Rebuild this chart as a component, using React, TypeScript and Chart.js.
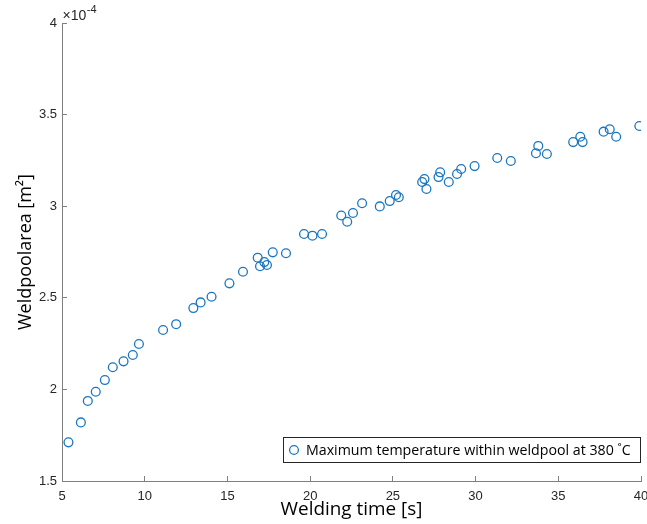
import React, { useEffect, useRef } from 'react';
import { Chart, registerables } from 'chart.js';

Chart.register(...registerables);

// Welding time [s]
const weldingTime = [
  5.39, 6.14, 6.56, 7.04, 7.59, 8.07, 8.72, 9.28, 9.65, 11.11,
  11.9, 12.94, 13.38, 14.04, 15.12, 15.94, 16.83, 16.97, 17.23, 17.39,
  17.74, 18.54, 19.63, 20.14, 20.72, 21.88, 22.24, 22.59, 23.14, 24.21,
  24.81, 25.19, 25.36, 26.77, 26.91, 27.03, 27.76, 27.86, 28.38, 28.88,
  29.13, 29.94, 31.31, 32.13, 33.65, 33.79, 34.31, 35.9, 36.33, 36.47,
  37.74, 38.11, 38.5, 39.9,
];
// Weld pool area [m^2] x 10^-4
const poolAreaE4 = [
  1.711, 1.82, 1.937, 1.987, 2.051, 2.121, 2.153, 2.188, 2.248, 2.324,
  2.356, 2.444, 2.475, 2.506, 2.579, 2.642, 2.719, 2.672, 2.695, 2.679,
  2.748, 2.743, 2.848, 2.839, 2.848, 2.949, 2.915, 2.963, 3.016, 2.999,
  3.028, 3.061, 3.049, 3.132, 3.148, 3.094, 3.159, 3.185, 3.132, 3.176,
  3.203, 3.219, 3.263, 3.247, 3.289, 3.329, 3.285, 3.35, 3.379, 3.35,
  3.407, 3.42, 3.379, 3.438,
];
const xTicks = [5, 10, 15, 20, 25, 30, 35, 40];
const yTicks = [1.5, 2, 2.5, 3, 3.5, 4];
const seriesLabel = 'Maximum temperature within weldpool at 380 \u02DAC';
const xTitle = 'Welding time [s]';
const yTitle = 'Weldpoolarea [m\u00B2]';
const multiplierBase = '\u00D710';
const multiplierExp = '-4';

const BLUE = '#1a76c0';
const AXIS = '#7f7f7f';
const TEXT = '#262626';
const TITLE_FONT = '"Open Sans", "DejaVu Sans", sans-serif';
const TICK_FONT = '"Liberation Sans", Arial, sans-serif';

function fitSize(text: string, family: string, target: number): number {
  const c = document.createElement('canvas').getContext('2d')!;
  c.font = `100px ${family}`;
  const w = c.measureText(text).width;
  return (100 * target) / w;
}

const overlayPlugin = {
  id: 'overlay',
  afterDraw(chart: any) {
    const { ctx, chartArea } = chart;
    ctx.save();
    // exponent multiplier
    ctx.fillStyle = TEXT;
    ctx.textBaseline = 'alphabetic';
    ctx.textAlign = 'left';
    ctx.font = `14px ${TICK_FONT}`;
    const bx = chartArea.left + 0.5;
    ctx.fillText(multiplierBase, bx, chartArea.top - 3);
    const bw = ctx.measureText(multiplierBase).width;
    ctx.font = `11px ${TICK_FONT}`;
    ctx.fillText(multiplierExp, bx + bw + 0.5, chartArea.top - 10);

    // legend
    const fs = fitSize(seriesLabel, TITLE_FONT, 325);
    const boxRight = chartArea.right - 0.5;
    const boxLeft = boxRight - 357;
    const boxBottom = chartArea.bottom - 18.5;
    const boxTop = boxBottom - 25;
    ctx.fillStyle = '#ffffff';
    ctx.fillRect(boxLeft, boxTop, boxRight - boxLeft, boxBottom - boxTop);
    ctx.strokeStyle = '#262626';
    ctx.lineWidth = 1;
    ctx.strokeRect(boxLeft, boxTop, boxRight - boxLeft, boxBottom - boxTop);
    const cy = (boxTop + boxBottom) / 2;
    ctx.beginPath();
    ctx.arc(boxLeft + 10.5, cy, 4.4, 0, Math.PI * 2);
    ctx.strokeStyle = BLUE;
    ctx.lineWidth = 1.3;
    ctx.stroke();
    ctx.fillStyle = '#000000';
    ctx.font = `${fs}px ${TITLE_FONT}`;
    ctx.textBaseline = 'middle';
    ctx.fillText(seriesLabel, boxLeft + 22.5, cy + 0.5);
    ctx.restore();
  },
};

export default function App() {
  const ref = useRef<HTMLCanvasElement | null>(null);
  useEffect(() => {
    if (!ref.current) return;
    const xTitleSize = fitSize(xTitle, TITLE_FONT, 142);
    const yTitleSize = fitSize(yTitle, TITLE_FONT, 156);
    const points = weldingTime.map((x, i) => ({ x, y: poolAreaE4[i] }));
    const chart = new Chart(ref.current, {
      type: 'scatter',
      data: {
        datasets: [
          {
            label: seriesLabel,
            data: points,
            pointStyle: 'circle',
            pointRadius: 4.4,
            pointBorderWidth: 1.3,
            borderColor: BLUE,
            backgroundColor: 'rgba(0,0,0,0)',
            pointBackgroundColor: 'rgba(0,0,0,0)',
            pointBorderColor: BLUE,
          },
        ],
      },
      options: {
        animation: false,
        responsive: false,
        events: [],
        layout: { padding: { left: 0, top: 23, right: 6, bottom: 0 } },
        plugins: {
          legend: { display: false },
          tooltip: { enabled: false },
        },
        scales: {
          x: {
            type: 'linear',
            min: xTicks[0],
            max: xTicks[xTicks.length - 1],
            afterBuildTicks: (s: any) => {
              s.ticks = xTicks.map((v) => ({ value: v }));
            },
            ticks: {
              padding: 13,
              color: TEXT,
              font: { family: TICK_FONT, size: 13 },
              maxRotation: 0,
              callback: (v: any) => String(v),
            },
            grid: {
              drawOnChartArea: false,
              drawTicks: true,
              tickLength: -5,
              color: AXIS,
              lineWidth: 1,
            },
            border: { display: true, color: AXIS, width: 1 },
            title: {
              display: true,
              text: xTitle,
              color: '#000000',
              font: { family: TITLE_FONT, size: xTitleSize },
              padding: { top: 0, bottom: 3 },
            },
            afterFit: (s: any) => {
              s.height = 43;
              s.paddingLeft = 0;
              s.paddingRight = 0;
            },
          },
          y: {
            type: 'linear',
            min: yTicks[0],
            max: yTicks[yTicks.length - 1],
            afterBuildTicks: (s: any) => {
              s.ticks = yTicks.map((v) => ({ value: v }));
            },
            ticks: {
              padding: 10,
              color: TEXT,
              font: { family: TICK_FONT, size: 13 },
              callback: (v: any) => String(v),
            },
            grid: {
              drawOnChartArea: false,
              drawTicks: true,
              tickLength: -5,
              color: AXIS,
              lineWidth: 1,
            },
            border: { display: true, color: AXIS, width: 1 },
            title: {
              display: true,
              text: yTitle,
              color: '#000000',
              font: { family: TITLE_FONT, size: yTitleSize },
              padding: { top: 15, bottom: 0 },
            },
            afterFit: (s: any) => {
              s.width = 62;
              s.paddingTop = 0;
              s.paddingBottom = 0;
            },
          },
        },
      },
      plugins: [overlayPlugin],
    } as any);
    return () => chart.destroy();
  }, []);
  return (
    <div style={{ position: 'absolute', left: 0, top: 0, width: 647, height: 524, background: '#fff' }}>
      <canvas ref={ref} width={647} height={524} style={{ display: 'block' }} />
    </div>
  );
}
